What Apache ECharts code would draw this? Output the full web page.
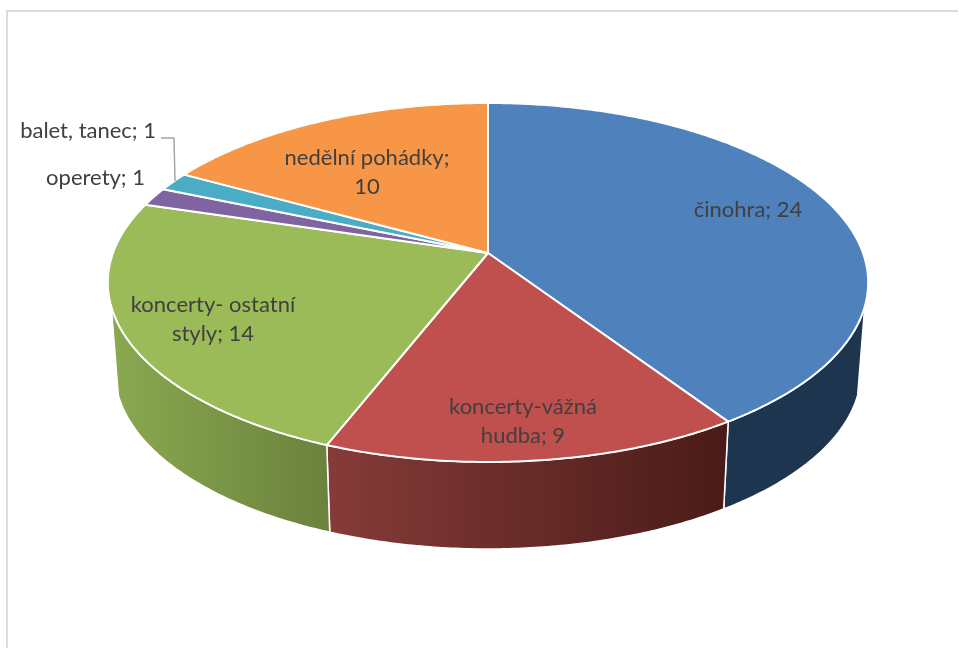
<!DOCTYPE html>
<html>
<head>
<meta charset="utf-8">
<style>
  html, body { margin: 0; padding: 0; background: #fff; }
  #main { width: 959px; height: 648px; }
</style>
<script src="https://cdn.jsdelivr.net/npm/echarts@6/dist/echarts.min.js"></script>
</head>
<body>
<div id="main"></div>
<script>
// chart values
var categories = ['činohra', 'koncerty-vážná\nhudba', 'koncerty- ostatní\nstyly', 'operety', 'balet, tanec', 'nedělní pohádky'];
var values = [24, 9, 14, 1, 1, 10];
var separators = ['; ', '; ', '; ', '; ', '; ', ';\n'];

var topColors = ['#4f81bd', '#c0504d', '#9bbb59', '#8064a2', '#4bacc6', '#f79646'];
var wallColors = [
  ['#1e3550', '#1e3550'],
  ['#863b39', '#491b18'],
  ['#8aa950', '#6a823c'],
  ['#4c3c61', '#4c3c61'],
  ['#2d6776', '#2d6776'],
  ['#945a2a', '#945a2a']
];
// label anchors, px
var labelAnchors = [
  { x: 748, y: 210, align: 'center' },
  { x: 523, y: 421, align: 'center' },
  { x: 213, y: 319, align: 'center' },
  { x: 145, y: 178, align: 'right' },
  { x: 156, y: 131, align: 'right' },
  { x: 367, y: 172, align: 'center' }
];

// perspective of the disc, fitted on the picture
var apexX = 488, apexY = 253;
var persp = 0.1643;
var topA = 375, topB = 174.65;
var botA = 368, botB = 173, botDrop = 89;

var total = values.reduce(function (a, b) { return a + b; }, 0);
var starts = [];
values.reduce(function (acc, v, i) { starts[i] = acc; return acc + v; }, 0);

function angleOf(v) { return v / total * 2 * Math.PI; }

function topPoint(t) {
  var u = Math.sin(t), v = -Math.cos(t), w = 1 - persp * v;
  return [apexX + topA * u / w, apexY + topB * v / w];
}
function botPoint(t) {
  var u = Math.sin(t), v = -Math.cos(t), w = 1 - persp * v;
  return [apexX + botA * u / w, apexY + botDrop + botB * v / w];
}
function arc(fn, a0, a1) {
  var pts = [], n = Math.max(2, Math.ceil((a1 - a0) / 0.01));
  for (var i = 0; i <= n; i++) pts.push(fn(a0 + (a1 - a0) * i / n));
  return pts;
}

function renderTop(params, api) {
  var i = params.dataIndex;
  var a0 = angleOf(starts[i]), a1 = angleOf(starts[i] + api.value(0));
  var points = [[apexX, apexY]].concat(arc(topPoint, a0, a1));
  return {
    type: 'polygon',
    shape: { points: points },
    style: { fill: topColors[i], stroke: '#fff', lineWidth: 2, lineJoin: 'round' }
  };
}

// the rim is seen between its two silhouette generators
var wallFrom = 107 / 180 * Math.PI, wallTo = 253 / 180 * Math.PI;

function renderWall(params, api) {
  var i = params.dataIndex;
  var a0 = Math.max(angleOf(starts[i]), wallFrom);
  var a1 = Math.min(angleOf(starts[i] + api.value(0)), wallTo);
  if (a1 <= a0) return null;
  var points = arc(topPoint, a0, a1).concat(arc(botPoint, a0, a1).reverse());
  return {
    type: 'polygon',
    shape: { points: points },
    style: {
      fill: new echarts.graphic.LinearGradient(0, 0, 1, 0, [
        { offset: 0, color: wallColors[i][0] },
        { offset: 1, color: wallColors[i][1] }
      ]),
      stroke: '#fff',
      lineWidth: 1.5,
      lineJoin: 'round'
    }
  };
}

function renderLabel(params, api) {
  var i = params.dataIndex, a = labelAnchors[i];
  return {
    type: 'text',
    style: {
      x: a.x,
      y: a.y,
      text: categories[i] + separators[i] + api.value(0),
      fill: '#404040',
      font: '22px Lato',
      lineHeight: 29,
      align: a.align,
      verticalAlign: 'middle'
    }
  };
}

var seriesData = values.map(function (v) { return [v]; });

var chart = echarts.init(document.getElementById('main'), null, { renderer: 'canvas' });
chart.setOption({
  animation: false,
  backgroundColor: '#fff',
  graphic: [
    { type: 'line', shape: { x1: 7, y1: 11, x2: 958, y2: 11 }, style: { stroke: '#dcdcdc', lineWidth: 2 } },
    { type: 'line', shape: { x1: 7, y1: 10, x2: 7, y2: 648 }, style: { stroke: '#dcdcdc', lineWidth: 2 } },
    // leader for the balet, tanec label
    { type: 'polyline', shape: { points: [[161, 138], [174, 138], [175, 181]] }, style: { stroke: '#a6a6a6', lineWidth: 1.5, fill: null }, z: 5 }
  ],
  series: [
    { type: 'custom', coordinateSystem: 'none', data: seriesData, renderItem: renderWall, silent: true, z: 1 },
    { type: 'custom', coordinateSystem: 'none', data: seriesData, renderItem: renderTop, silent: true, z: 2 },
    { type: 'custom', coordinateSystem: 'none', data: seriesData, renderItem: renderLabel, silent: true, z: 3 }
  ]
});
</script>
</body>
</html>
